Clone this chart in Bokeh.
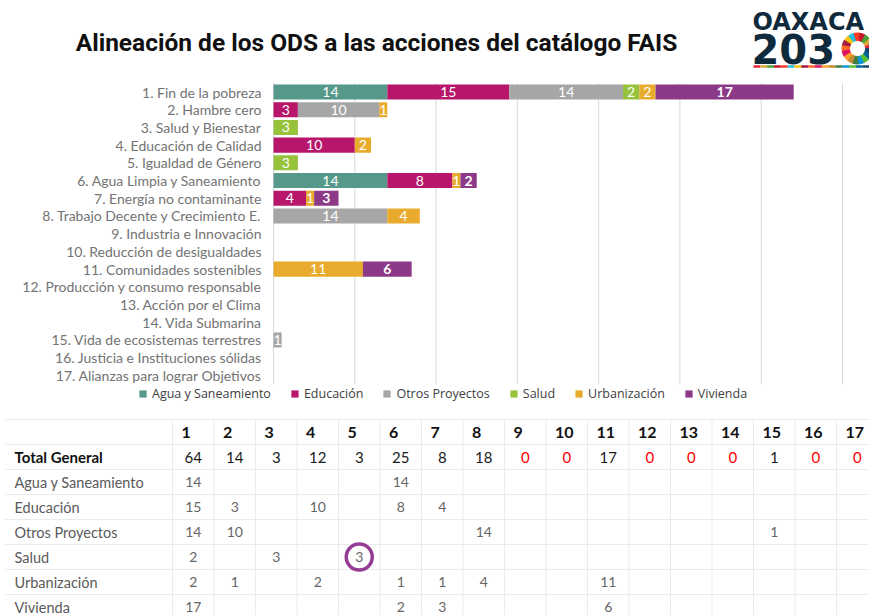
import numpy as np
from bokeh.plotting import figure
from bokeh.models import ColumnDataSource, Range1d, Legend, LegendItem
from bokeh.embed import file_html
from bokeh.resources import INLINE
from bokeh.core.properties import value

# ---------------- data ----------------
title = "Alineación de los ODS a las acciones del catálogo FAIS"
ods_labels = [
    "1. Fin de la pobreza", "2. Hambre cero", "3. Salud y Bienestar", "4. Educación de Calidad",
    "5. Igualdad de Género", "6. Agua Limpia y Saneamiento", "7. Energía no contaminante",
    "8. Trabajo Decente y Crecimiento E.", "9. Industria e Innovación",
    "10. Reducción de desigualdades", "11. Comunidades sostenibles",
    "12. Producción y consumo responsable", "13. Acción por el Clima", "14. Vida Submarina",
    "15. Vida de ecosistemas terrestres", "16. Justicia e Instituciones sólidas",
    "17. Alianzas para lograr Objetivos"]
ods_numbers = ["1", "2", "3", "4", "5", "6", "7", "8", "9", "10", "11", "12", "13", "14", "15", "16", "17"]
series_names = ["Agua y Saneamiento", "Educación", "Otros Proyectos", "Salud", "Urbanización", "Vivienda"]
agua =         [14, 0, 0, 0, 0, 14, 0, 0, 0, 0, 0, 0, 0, 0, 0, 0, 0]
educacion =    [15, 3, 0, 10, 0, 8, 4, 0, 0, 0, 0, 0, 0, 0, 0, 0, 0]
otros =        [14, 10, 0, 0, 0, 0, 0, 14, 0, 0, 0, 0, 0, 0, 1, 0, 0]
salud =        [2, 0, 3, 0, 3, 0, 0, 0, 0, 0, 0, 0, 0, 0, 0, 0, 0]
urbanizacion = [2, 1, 0, 2, 0, 1, 1, 4, 0, 0, 11, 0, 0, 0, 0, 0, 0]
vivienda =     [17, 0, 0, 0, 0, 2, 3, 0, 0, 0, 6, 0, 0, 0, 0, 0, 0]
grid_ticks = [0, 10, 20, 30, 40, 50, 60, 70]
total_label = "Total General"
logo_top, logo_bottom = "OAXACA", "203"

# ---------------- styles ----------------
colors = ["#56988a", "#b8166b", "#a6a6a6", "#97c23c", "#e8ab2e", "#8c3a87"]
sdg_colors = ["#E5243B", "#DDA63A", "#4C9F38", "#C5192D", "#FF3A21", "#26BDE2", "#FCC30B",
              "#A21942", "#FD6925", "#DD1367", "#FD9D24", "#BF8B2E", "#3F7E44", "#0A97D9",
              "#56C02B", "#00689D", "#19486A"]
FONT = "Lato"
W, H = 869, 615

# one canvas; default ranges are page pixels (x 0..W, y 0..H downwards)
p = figure(width=W, height=H, x_range=Range1d(0, W), y_range=Range1d(H, 0),
           output_backend="svg", toolbar_location=None, min_border=0,
           x_axis_location=None, y_axis_location=None)
p.grid.visible = False
p.outline_line_color = None

# bar-chart scales: value 0 at x=273, 70 at x=842 ; rows 17.71 px apart from y=91.5
kx = (842 - 273) / 70.0
x0v = -273 / kx
p.extra_x_ranges = {"val": Range1d(x0v, x0v + W / kx)}
ky = 17.71
p.extra_y_ranges = {"ods": Range1d((H - 91.5) / ky, (0 - 91.5) / ky)}

# ---------------- header ----------------
p.text(x=[376], y=[42], text=[title], text_font=value("Roboto"), text_font_style="bold",
       text_font_size="24.5px", text_align="center", text_baseline="middle", text_color="#111111")
p.text(x=[752], y=[21], text=[logo_top], text_font=value("DejaVu Sans"), text_font_style="bold",
       text_font_size="24px", text_align="left", text_baseline="middle", text_color="#0f2a3c")
p.text(x=[751], y=[48], text=[logo_bottom], text_font=value("DejaVu Sans"), text_font_style="bold",
       text_font_size="40px", text_align="left", text_baseline="middle", text_color="#0f2a3c")
n = len(sdg_colors)
ang = np.linspace(0, 2 * np.pi, n + 1)
p.annular_wedge(x=[857] * n, y=[48] * n, inner_radius=8, outer_radius=15.5,
                start_angle=ang[:-1], end_angle=ang[1:], color=sdg_colors)
xs = np.linspace(753, 869, n + 1)
p.segment(x0=xs[:-1], y0=[66] * n, x1=xs[1:], y1=[66] * n, line_color=sdg_colors, line_width=2.5)

# ---------------- bar chart ----------------
keys = ["agua", "educacion", "otros", "salud", "urbanizacion", "vivienda"]
rows = list(range(len(ods_labels)))
src = ColumnDataSource(dict(r=rows, agua=agua, educacion=educacion, otros=otros, salud=salud,
                            urbanizacion=urbanizacion, vivienda=vivienda))
p.segment(x0=grid_ticks, y0=[-0.5] * len(grid_ticks), x1=grid_ticks, y1=[len(rows) - 0.5] * len(grid_ticks),
          x_range_name="val", y_range_name="ods", line_color="#d9d9d9", line_width=1)
rends = p.hbar_stack(keys, y="r", height=0.85, color=colors, source=src, line_color=None,
                     x_range_name="val", y_range_name="ods")
p.text(x=[261] * len(rows), y=rows, text=ods_labels, y_range_name="ods", text_font=value(FONT),
       text_font_size="14px", text_align="right", text_baseline="middle", text_color="#737373")

stack = np.array([agua, educacion, otros, salud, urbanizacion, vivienda], dtype=float)
cum = np.cumsum(stack, axis=0)
left = cum - stack
for i in range(len(keys)):
    mask = stack[i] > 0
    p.text(x=((left[i] + cum[i]) / 2)[mask], y=np.array(rows)[mask],
           text=[str(int(v)) for v in stack[i][mask]], x_range_name="val", y_range_name="ods",
           text_font=value(FONT), text_font_style="bold" if keys[i] == "vivienda" else "normal",
           text_font_size="14px", text_align="center", text_baseline="middle", text_color="white")

legend = Legend(items=[LegendItem(label=nm, renderers=[r]) for nm, r in zip(series_names, rends)],
                orientation="horizontal", location=(138, 213), padding=0, margin=0, spacing=19,
                glyph_width=9, glyph_height=9, label_standoff=5, label_height=14,
                label_text_font="Open Sans", label_text_font_size="12.5px",
                label_text_color="#404040", border_line_color=None, background_fill_alpha=0)
p.add_layout(legend)

# ---------------- table ----------------
top, rh = 419, 25
c0, cw = 172, 41.5
tx0, tx1 = 5, W
nrows = 2 + len(series_names)
hy = [top + k * rh for k in range(nrows + 1)]
p.segment(x0=[tx0] * len(hy), y0=hy, x1=[tx1] * len(hy), y1=hy, line_color="#ebebeb", line_width=1)
vx = [c0 + k * cw for k in range(len(ods_numbers) + 1)]
p.segment(x0=vx, y0=[top] * len(vx), x1=vx, y1=[hy[-1]] * len(vx), line_color="#ebebeb", line_width=1)

def rc(r):
    return top + rh * r + rh / 2

col_left = [c0 + k * cw for k in range(len(ods_numbers))]
col_mid = [x + cw / 2 for x in col_left]
p.text(x=[x + 9 for x in col_left], y=[rc(0)] * len(col_left), text=ods_numbers, text_font=value(FONT),
       text_font_style="bold", text_font_size="16px", text_align="left", text_baseline="middle",
       text_color="#111111")
totals = stack.sum(axis=0).astype(int)
p.text(x=[14], y=[rc(1)], text=[total_label], text_font=value(FONT), text_font_style="bold",
       text_font_size="15px", text_align="left", text_baseline="middle", text_color="#111111")
p.text(x=col_mid, y=[rc(1)] * len(col_mid), text=[str(t) for t in totals], text_font=value(FONT),
       text_font_size="15px", text_align="center", text_baseline="middle",
       text_color=["#ff0000" if t == 0 else "#1a1a1a" for t in totals])
for i, nm in enumerate(series_names):
    r = 2 + i
    p.text(x=[14], y=[rc(r)], text=[nm], text_font=value(FONT), text_font_size="14.5px",
           text_align="left", text_baseline="middle", text_color="#5a5a5a")
    mask = stack[i] > 0
    p.text(x=[col_mid[j] for j in range(len(col_mid)) if mask[j]], y=[rc(r)] * int(mask.sum()),
           text=[str(int(v)) for v in stack[i][mask]], text_font=value(FONT), text_font_size="14px",
           text_align="center", text_baseline="middle", text_color="#666666")
si, oj = series_names.index("Salud"), ods_numbers.index("5")
p.circle(x=[col_mid[oj]], y=[rc(2 + si)], radius=13, fill_color=None, line_color="#953d94", line_width=3.5)

open("out.html", "w").write(file_html(p, INLINE))
